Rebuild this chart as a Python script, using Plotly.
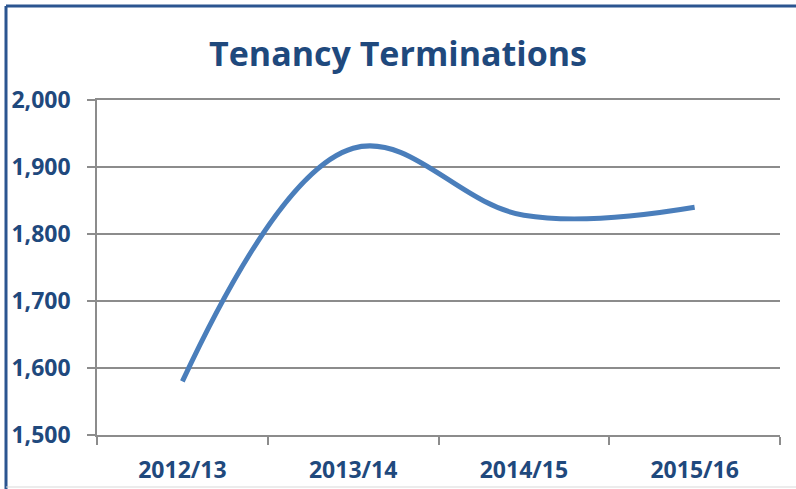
import plotly.graph_objects as go

categories = ["2012/13", "2013/14", "2014/15", "2015/16"]
terminations = [1580, 1928, 1828, 1840]
y_ticks = [1500, 1600, 1700, 1800, 1900, 2000]
y_tick_labels = ["1,500", "1,600", "1,700", "1,800", "1,900", "2,000"]

W, H = 796, 489
L, R, T, B = 97, 16, 100, 54
pw, ph = W - L - R, H - T - B

def px_x(p):
    return (p - L) / pw

def px_y(p):
    return 1 - (p - T) / ph

navy = "#1F497D"
grid = "#8C8C8C"
FONT = "Open Sans, Lato, sans-serif"

fig = go.Figure()
fig.add_trace(go.Scatter(
    x=categories, y=terminations, mode="lines",
    line=dict(color="#4A7EBB", width=5, shape="spline", smoothing=1.1),
    hoverinfo="skip", showlegend=False,
))

border = "#2B5590"
fig.update_layout(
    width=W, height=H,
    margin=dict(l=L, r=R, t=T, b=B),
    paper_bgcolor="white", plot_bgcolor="white",
    title=dict(text="<b>Tenancy Terminations</b>", x=0.5, xanchor="center",
               y=1 - 54 / H, yanchor="middle",
               font=dict(family=FONT, size=34, color=navy)),
    xaxis=dict(type="category", tickson="boundaries", ticks="outside", ticklen=8,
               tickcolor=grid, tickwidth=1.5, showgrid=False,
               showline=True, linecolor=grid, linewidth=1.5, mirror=True,
               zeroline=False, automargin=False, ticklabelstandoff=14,
               tickfont=dict(family=FONT, size=23, color=navy, weight="bold"),
               range=[-0.5, 3.5]),
    yaxis=dict(range=[1500, 2000], tickvals=y_ticks, ticktext=y_tick_labels,
               ticks="outside", ticklen=8, tickcolor=grid, tickwidth=1.5,
               showgrid=True, gridcolor=grid, gridwidth=1.5,
               showline=True, linecolor=grid, linewidth=1.5, zeroline=False,
               automargin=False, ticklabelstandoff=12,
               tickfont=dict(family=FONT, size=23, color=navy, weight="bold")),
    shapes=[
        dict(type="line", xref="paper", yref="paper", x0=px_x(6), x1=px_x(800),
             y0=px_y(6), y1=px_y(6), line=dict(color=border, width=3)),
        dict(type="line", xref="paper", yref="paper", x0=px_x(6), x1=px_x(6),
             y0=px_y(6), y1=px_y(492), line=dict(color=border, width=3)),
        dict(type="line", xref="paper", yref="paper", x0=px_x(6), x1=px_x(800),
             y0=px_y(487), y1=px_y(487), line=dict(color="#D9D9D9", width=1)),
    ],
)

fig.write_html("out.html", config={"displayModeBar": False},
               post_script="document.body.style.margin='0';")
